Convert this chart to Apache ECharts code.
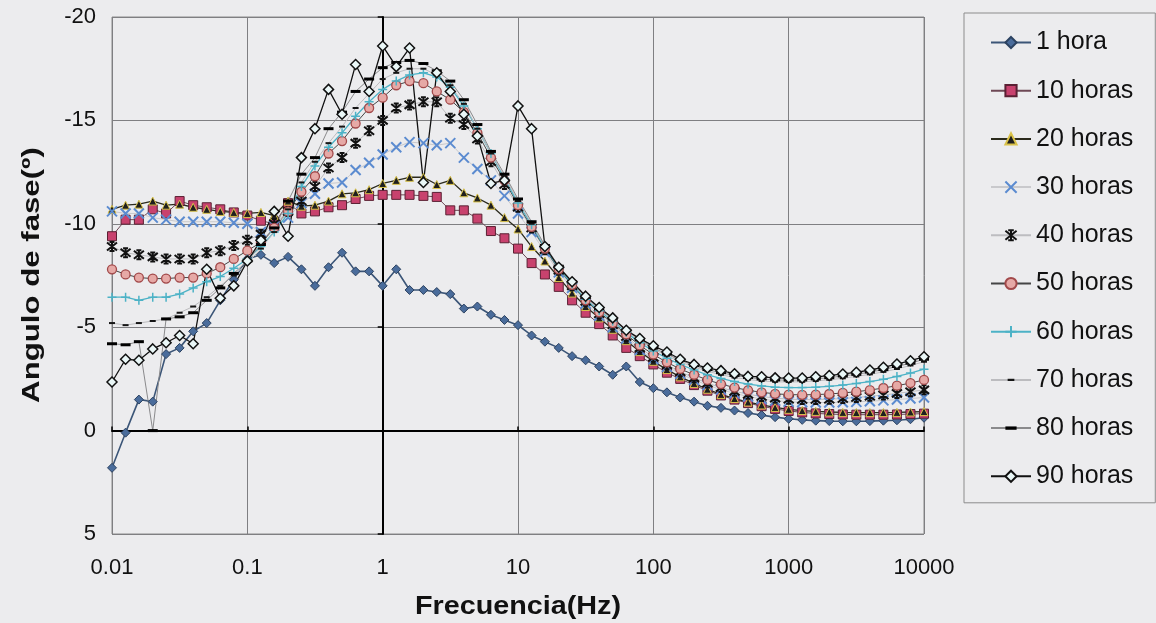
<!DOCTYPE html>
<html>
<head>
<meta charset="utf-8">
<script src="https://cdn.jsdelivr.net/npm/echarts@6/dist/echarts.min.js"></script>
<style>
html, body { margin: 0; padding: 0; background: #ececee; }
#chart { width: 1156px; height: 623px; }
</style>
</head>
<body>
<div id="chart"></div>
<script>
// frecuencias medidas (10 puntos por decada)
var freqs = [
  0.01, 0.0126, 0.0158, 0.02, 0.0251, 0.0316, 0.0398, 0.0501, 0.0631, 0.0794,
  0.1, 0.126, 0.158, 0.2, 0.251, 0.316, 0.398, 0.501, 0.631, 0.794,
  1, 1.26, 1.58, 2, 2.51, 3.16, 3.98, 5.01, 6.31, 7.94,
  10, 12.6, 15.8, 20, 25.1, 31.6, 39.8, 50.1, 63.1, 79.4,
  100, 126, 158, 200, 251, 316, 398, 501, 631, 794,
  1000, 1259, 1585, 1995, 2512, 3162, 3981, 5012, 6310, 7943, 10000
];

var h1 = [
  1.8, 0.1, -1.5, -1.4, -3.7, -4.0, -4.8, -5.2, -6.3, -7.3,
  -8.3, -8.5, -8.1, -8.4, -7.8, -7.0, -7.9, -8.6, -7.7, -7.7,
  -7.0, -7.8, -6.8, -6.8, -6.7, -6.6, -5.9, -6.0, -5.6, -5.35,
  -5.1, -4.6, -4.3, -4.0, -3.6, -3.4, -3.1, -2.7, -3.1, -2.35,
  -2.05, -1.85, -1.6, -1.4, -1.2, -1.1, -0.97, -0.85, -0.75, -0.65,
  -0.57, -0.52, -0.48, -0.46, -0.45, -0.45, -0.46, -0.48, -0.5, -0.55, -0.62
];
var h10 = [
  -9.4, -10.2, -10.2, -10.7, -10.5, -11.1, -10.9, -10.8, -10.7, -10.55,
  -10.4, -10.15, -10.0, -11.0, -10.5, -10.6, -10.8, -10.9, -11.2, -11.35,
  -11.4, -11.4, -11.4, -11.35, -11.3, -10.65, -10.65, -10.25, -9.65, -9.3,
  -8.8, -8.1, -7.55, -6.95, -6.3, -5.7, -5.15, -4.6, -4.0, -3.6,
  -3.2, -2.8, -2.5, -2.2, -1.93, -1.7, -1.5, -1.33, -1.18, -1.05,
  -0.95, -0.88, -0.83, -0.8, -0.78, -0.77, -0.77, -0.77, -0.78, -0.8, -0.82
];
var h20 = [
  -10.7, -10.9, -10.95, -11.1, -10.9, -10.95, -10.8, -10.7, -10.6, -10.55,
  -10.5, -10.55, -10.4, -11.1, -10.85, -10.9, -11.1, -11.45, -11.5, -11.65,
  -11.95, -12.1, -12.25, -12.25, -11.9, -12.1, -11.5, -11.25, -10.9, -10.3,
  -9.75, -8.9, -8.2, -7.4, -6.65, -6.0, -5.45, -4.9, -4.35, -3.82,
  -3.35, -2.95, -2.6, -2.28, -2.0, -1.75, -1.55, -1.38, -1.24, -1.12,
  -1.03, -0.97, -0.93, -0.9, -0.88, -0.87, -0.87, -0.87, -0.88, -0.9, -0.92
];
var h30 = [
  -10.6, -10.5, -10.5, -10.3, -10.2, -10.1, -10.1, -10.1, -10.1, -10.05,
  -10.0, -9.6, -9.9, -10.3, -11.0, -11.45, -11.95, -12.0, -12.6, -12.95,
  -13.35, -13.7, -13.95, -13.9, -13.8, -13.9, -13.2, -12.65, -12.1, -11.35,
  -10.5, -9.6, -8.65, -7.65, -6.9, -6.15, -5.55, -5.0, -4.45, -3.9,
  -3.45, -3.08, -2.75, -2.45, -2.2, -1.98, -1.8, -1.65, -1.53, -1.45,
  -1.4, -1.37, -1.36, -1.36, -1.37, -1.39, -1.42, -1.46, -1.5, -1.55, -1.6
];
var h40 = [
  -8.9, -8.6, -8.5, -8.4, -8.3, -8.3, -8.3, -8.6, -8.7, -8.95,
  -9.2, -9.5, -10.0, -10.6, -11.1, -11.8, -12.7, -13.2, -13.9, -14.5,
  -15.0, -15.6, -15.75, -15.9, -15.9, -15.1, -14.8, -14.1, -13.0, -11.9,
  -10.8, -9.8, -8.75, -7.75, -7.0, -6.25, -5.65, -5.12, -4.55, -4.0,
  -3.55, -3.18, -2.85, -2.55, -2.3, -2.08, -1.9, -1.76, -1.65, -1.57,
  -1.52, -1.5, -1.5, -1.52, -1.55, -1.6, -1.66, -1.72, -1.8, -1.88, -1.97
];
var h50 = [
  -7.8, -7.55, -7.4, -7.35, -7.35, -7.4, -7.4, -7.6, -7.9, -8.3,
  -8.7, -9.1, -9.8, -10.6, -11.55, -12.3, -13.4, -14.0, -14.85, -15.6,
  -16.1, -16.7, -16.9, -16.8, -16.4, -16.0, -15.4, -14.4, -13.2, -12.1,
  -10.9, -9.85, -8.8, -7.8, -7.05, -6.3, -5.72, -5.2, -4.65, -4.12,
  -3.68, -3.3, -2.98, -2.7, -2.45, -2.25, -2.08, -1.95, -1.85, -1.78,
  -1.74, -1.73, -1.74, -1.77, -1.82, -1.88, -1.96, -2.06, -2.17, -2.3, -2.45
];
var h60 = [
  -6.45, -6.45, -6.3, -6.45, -6.45, -6.6, -6.9, -7.2, -7.45, -7.85,
  -8.3, -8.9, -9.6, -10.5, -11.8, -12.8, -13.7, -14.4, -15.2, -15.9,
  -16.5, -16.9, -17.2, -17.3, -17.1, -16.6, -15.7, -14.6, -13.4, -12.2,
  -11.0, -9.95, -8.85, -7.85, -7.1, -6.35, -5.8, -5.3, -4.75, -4.25,
  -3.85, -3.5, -3.2, -2.93, -2.7, -2.52, -2.37, -2.25, -2.16, -2.1,
  -2.08, -2.08, -2.1, -2.14, -2.2, -2.28, -2.37, -2.48, -2.62, -2.78, -2.97
];
var h70 = [
  -5.2, -5.1, -5.2, -5.3, -5.4, -5.7, -6.0, -6.45, -7.0, -7.5,
  -8.1, -8.8, -9.6, -10.7, -12.0, -13.0, -13.9, -14.7, -15.6, -16.3,
  -17.0, -17.3, -17.5, -17.5, -17.2, -16.7, -15.8, -14.6, -13.4, -12.3,
  -11.1, -10.0, -8.9, -7.9, -7.15, -6.4, -5.85, -5.35, -4.8, -4.35,
  -3.95, -3.62, -3.32, -3.07, -2.87, -2.7, -2.57, -2.47, -2.4, -2.36,
  -2.35, -2.36, -2.4, -2.46, -2.53, -2.62, -2.72, -2.84, -2.98, -3.15, -3.33
];
var h80 = [
  -4.2, -4.15, -4.3, 0.0, -5.4, -5.5, -5.7, -6.3, -6.9, -7.6,
  -8.2, -9.0, -9.8, -11.1, -12.4, -13.2, -14.6, -15.4, -16.4, -17.0,
  -17.55, -17.8, -17.9, -17.75, -17.4, -16.9, -16.0, -14.8, -13.5, -12.4,
  -11.2, -10.1, -8.95, -7.95, -7.2, -6.45, -5.9, -5.4, -4.85, -4.4,
  -4.0, -3.7, -3.4, -3.15, -2.95, -2.8, -2.67, -2.57, -2.5, -2.45,
  -2.44, -2.45, -2.5, -2.56, -2.64, -2.72, -2.83, -2.95, -3.1, -3.26, -3.45
];
var h90 = [
  -2.35, -3.45, -3.4, -3.95, -4.25, -4.6, -4.2, -7.8, -6.4, -7.0,
  -8.2, -9.2, -10.6, -9.4, -13.2, -14.6, -16.5, -15.3, -17.7, -16.4,
  -18.6, -17.6, -18.5, -12.0, -17.3, -16.4, -15.3, -14.25, -11.95, -12.1,
  -15.7, -14.6, -8.9, -7.9, -7.2, -6.5, -5.95, -5.45, -4.85, -4.45,
  -4.1, -3.8, -3.45, -3.2, -3.03, -2.9, -2.75, -2.62, -2.6, -2.55,
  -2.54, -2.54, -2.6, -2.66, -2.74, -2.82, -2.93, -3.06, -3.22, -3.38, -3.57
];

var names = ['1 hora', '10 horas', '20 horas', '30 horas', '40 horas',
             '50 horas', '60 horas', '70 horas', '80 horas', '90 horas'];

var FONT = '"Liberation Sans", Arial, sans-serif';

// marcadores tipo Excel
var X_PATH = 'path://M0,0L10,10M10,0L0,10';
var STAR_PATH = 'path://M1,1L9,9M9,1L1,9M5,0L5,10M3,0.5L7,0.5M3,9.5L7,9.5';
var PLUS_PATH = 'path://M0,5L10,5M5,0L5,10';
// guion centrado en una caja cuadrada (asi tambien sale bien en la leyenda)
var DASH_S = 'path://M0,0M2,4L8,4L8,6L2,6ZM10,10';
var DASH_L = 'path://M0,0M0,3.5L10,3.5L10,6.5L0,6.5ZM10,10';

function pts(vals) {
  return freqs.map(function (f, i) { return [f, vals[i]]; });
}

function mkSeries(name, vals, line, sym, size, item) {
  return {
    name: name,
    type: 'line',
    data: pts(vals),
    xAxisIndex: 0,
    yAxisIndex: 0,
    symbol: sym,
    symbolSize: size,
    showAllSymbol: true,
    lineStyle: line,
    itemStyle: item,
    emphasis: { disabled: true },
    animation: false
  };
}

var series = [
  mkSeries(names[0], h1, { color: '#3b5577', width: 1.6 }, 'diamond', 9,
    { color: '#4a6c9b', borderColor: '#2c4260', borderWidth: 1 }),
  mkSeries(names[1], h10, { color: '#6e4855', width: 1 }, 'rect', 9,
    { color: '#c8426e', borderColor: '#5a2033', borderWidth: 1 }),
  mkSeries(names[2], h20, { color: '#2b2a1c', width: 1.3 }, 'triangle', 8,
    { color: '#1f1f1f', borderColor: '#d9c24a', borderWidth: 1 }),
  mkSeries(names[3], h30, { color: '#c9c9cc', width: 1 }, X_PATH, 10,
    { color: '#5b8bd0', borderColor: '#5b8bd0', borderWidth: 2 }),
  mkSeries(names[4], h40, { color: '#bdbdc0', width: 1 }, STAR_PATH, 10,
    { color: '#111', borderColor: '#111', borderWidth: 2 }),
  mkSeries(names[5], h50, { color: '#454545', width: 1 }, 'circle', 9,
    { color: '#e6a9a6', borderColor: '#a2494a', borderWidth: 1.3 }),
  mkSeries(names[6], h60, { color: '#4cb2c6', width: 1.3 }, PLUS_PATH, 9,
    { color: '#4cb2c6', borderColor: '#4cb2c6', borderWidth: 1.5 }),
  mkSeries(names[7], h70, { color: '#bcbcbf', width: 1 }, DASH_S, 10,
    { color: '#151515', borderWidth: 0 }),
  mkSeries(names[8], h80, { color: '#8a8a8c', width: 1 }, DASH_L, 10,
    { color: '#000', borderWidth: 0 }),
  mkSeries(names[9], h90, { color: '#111', width: 1.3 }, 'diamond', 10,
    { color: '#eaf7f7', borderColor: '#111', borderWidth: 1.5 })
];

var chart = echarts.init(document.getElementById('chart'), null, { renderer: 'canvas' });

var option = {
  backgroundColor: '#ececee',
  animation: false,
  textStyle: { fontFamily: FONT },
  grid: {
    left: 112, right: 232, top: 17, bottom: 89,
    show: true, borderColor: '#8c8c8c', borderWidth: 1, backgroundColor: 'transparent'
  },
  legend: {
    orient: 'vertical',
    left: 964, top: 13,
    padding: [17, 22, 14, 26],
    itemWidth: 40, itemHeight: 14, itemGap: 23.2,
    backgroundColor: '#ececee',
    borderColor: '#8c8c8c', borderWidth: 1,
    textStyle: { fontFamily: FONT, fontSize: 25, color: '#111', lineHeight: 24 },
    data: names
  },
  xAxis: [
    {
      type: 'log', logBase: 10, min: 0.01, max: 10000,
      position: 'bottom',
      axisLine: { show: false },
      axisTick: { show: false },
      axisLabel: {
        fontFamily: FONT, fontSize: 22, color: '#111', margin: 23,
        formatter: function (v) { return String(parseFloat(v.toPrecision(6))); }
      },
      splitLine: { show: true, lineStyle: { color: '#7f7f82', width: 1 } },
      minorTick: { show: false },
      minorSplitLine: { show: false }
    },
    {
      type: 'log', logBase: 10, min: 0.01, max: 10000,
      position: 'bottom', offset: -103.4,
      axisLine: { show: true, onZero: false, lineStyle: { color: '#000', width: 2 } },
      axisTick: { show: true, inside: true, length: 4, lineStyle: { color: '#000', width: 1.5 } },
      axisLabel: { show: false },
      splitLine: { show: false }
    }
  ],
  yAxis: [
    {
      type: 'value', min: -20, max: 5, interval: 5, inverse: true,
      position: 'left',
      axisLine: { show: false },
      axisTick: { show: false },
      axisLabel: { fontFamily: FONT, fontSize: 22, color: '#111', margin: 16 },
      splitLine: { show: true, lineStyle: { color: '#7f7f82', width: 1 } }
    },
    {
      type: 'value', min: -20, max: 5, interval: 5, inverse: true,
      position: 'left', offset: -270.7,
      axisLine: { show: true, onZero: false, lineStyle: { color: '#000', width: 2 } },
      axisTick: { show: true, inside: false, length: 5, lineStyle: { color: '#000', width: 1.5 } },
      axisLabel: { show: false },
      splitLine: { show: false }
    }
  ],
  graphic: [
    {
      type: 'text', x: 518, y: 607, scaleX: 1.15,
      style: {
        text: 'Frecuencia(Hz)', fontFamily: FONT, fontSize: 25, fontWeight: 'bold',
        fill: '#111', textAlign: 'center', textVerticalAlign: 'middle'
      }
    },
    {
      type: 'text', x: 32, y: 275, rotation: Math.PI / 2, scaleX: 1.3,
      style: {
        text: 'Angulo de fase(º)', fontFamily: FONT, fontSize: 24, fontWeight: 'bold',
        fill: '#111', textAlign: 'center', textVerticalAlign: 'middle'
      }
    }
  ],
  series: series
};

chart.setOption(option);
</script>
</body>
</html>
